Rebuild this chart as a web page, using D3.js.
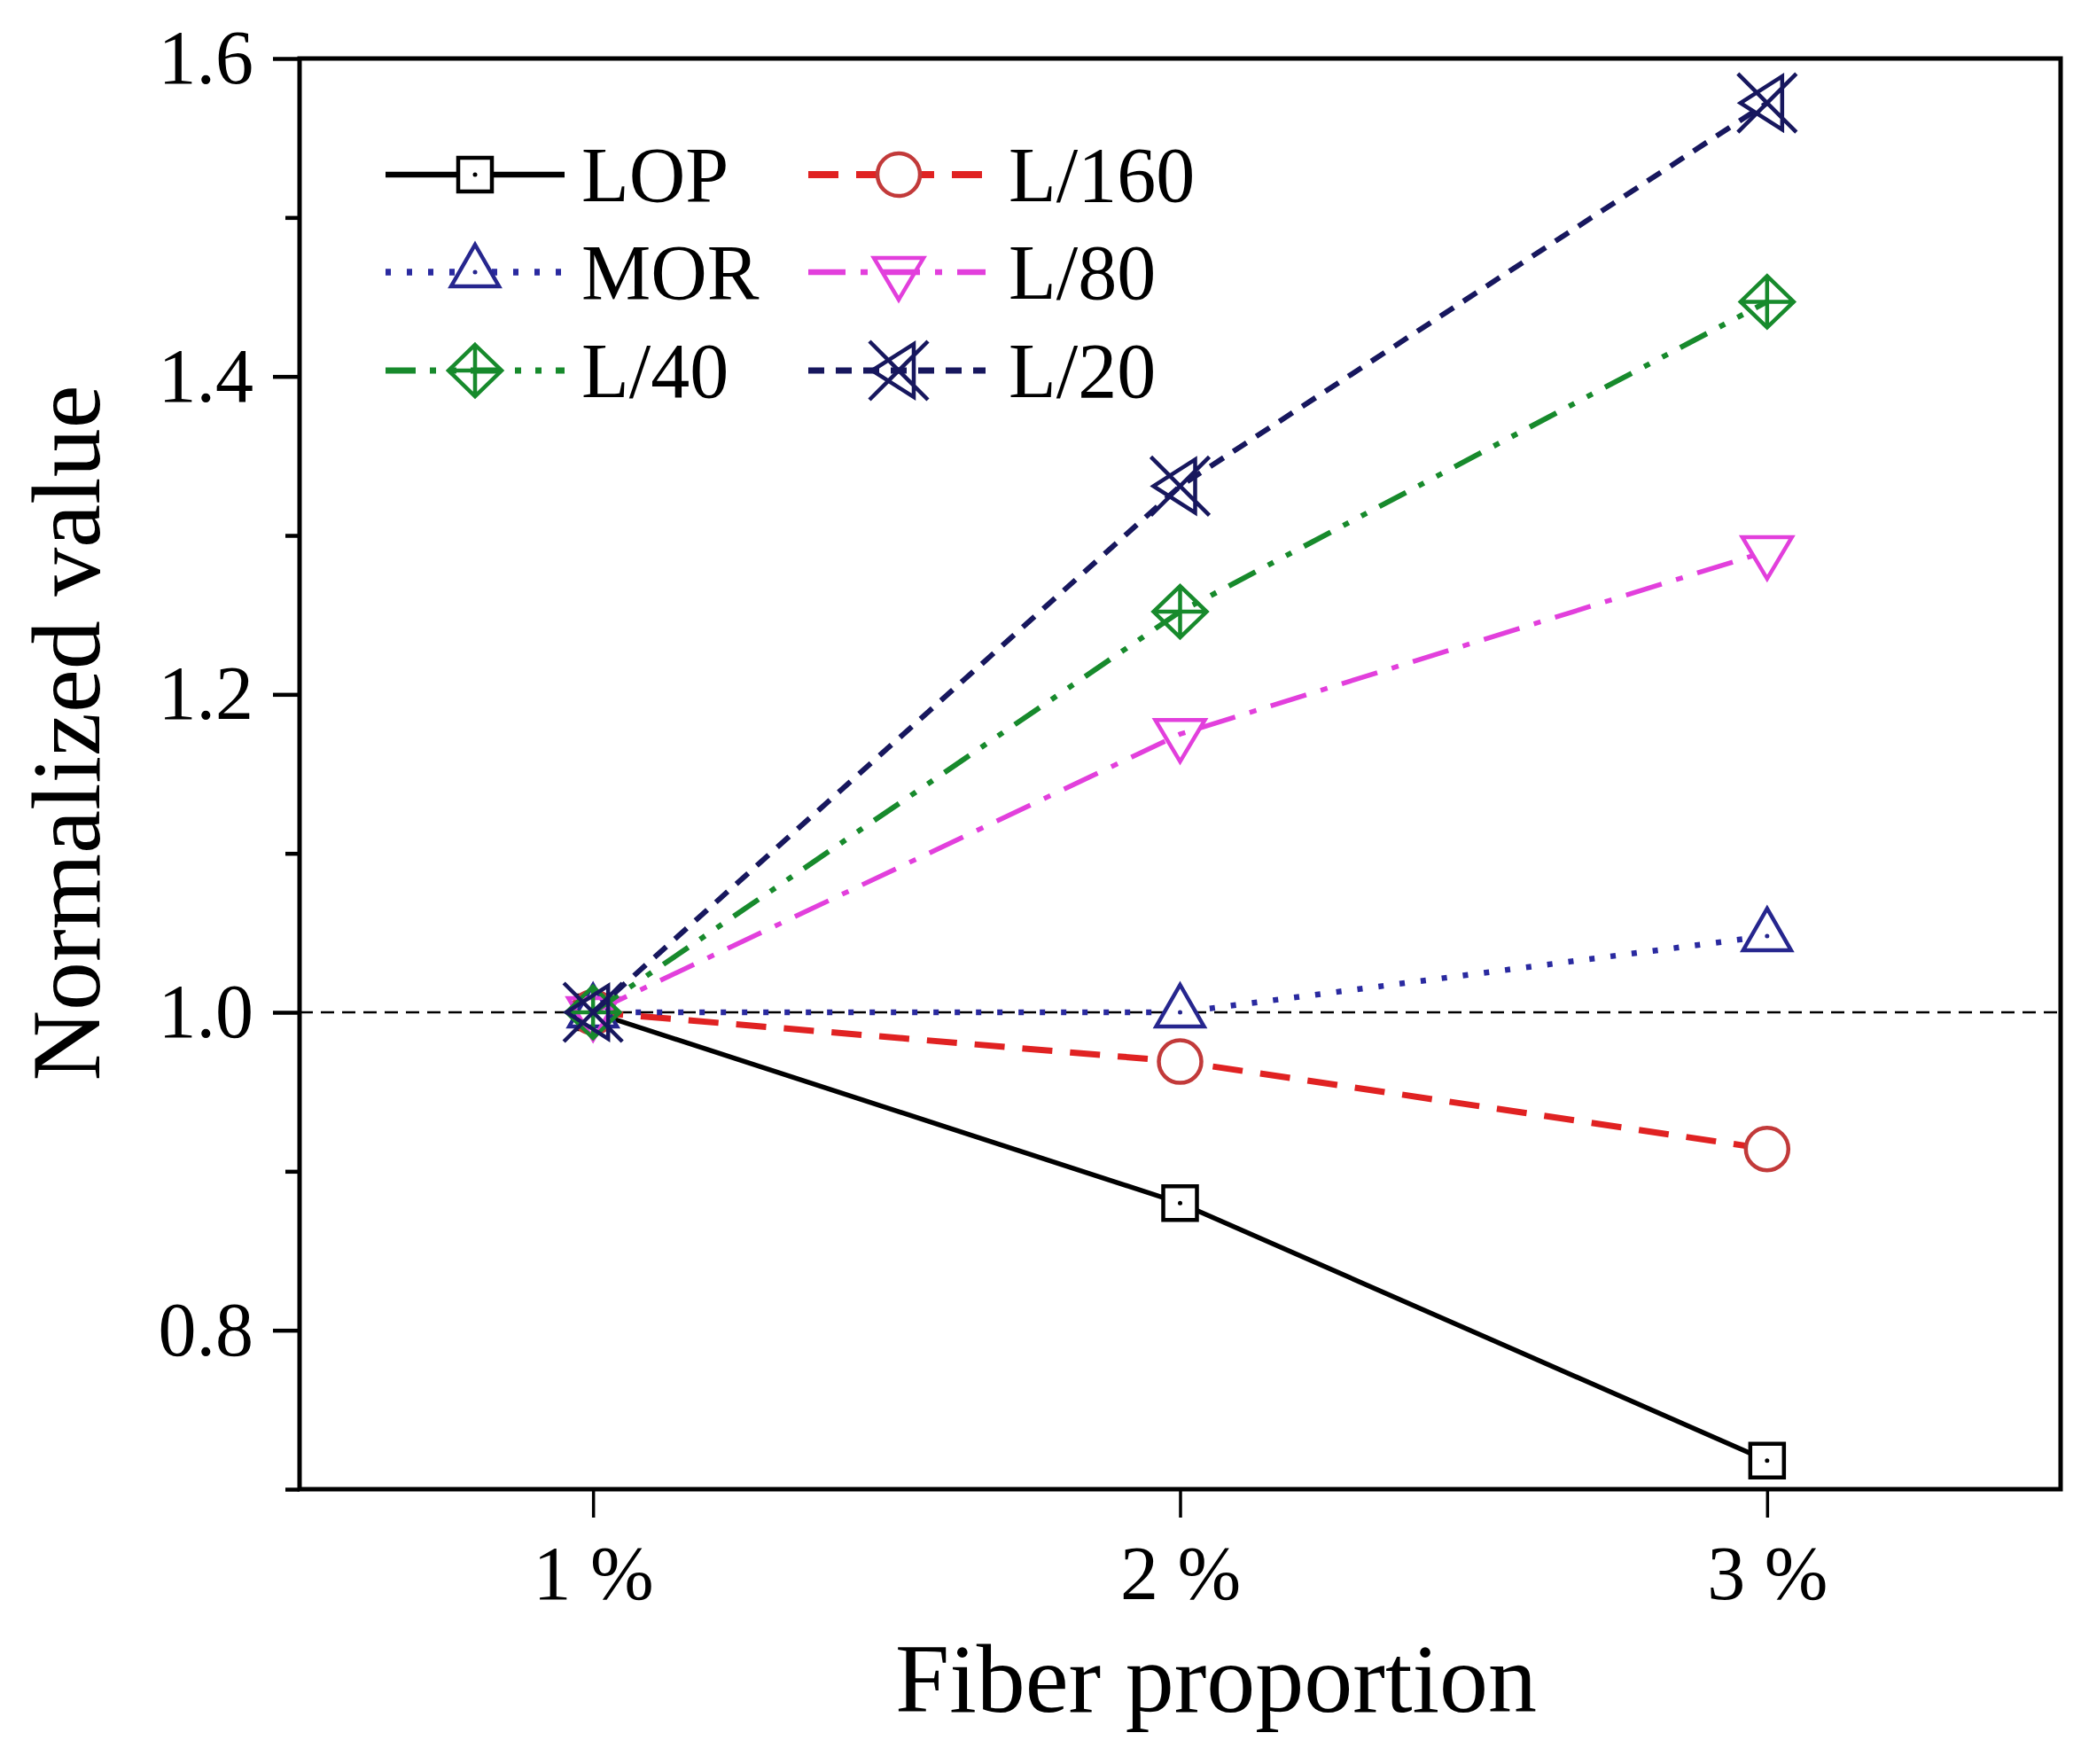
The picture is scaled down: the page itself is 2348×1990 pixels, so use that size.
<!DOCTYPE html>
<html>
<head>
<meta charset="utf-8">
<script src="https://cdn.jsdelivr.net/npm/d3@7"></script>
<style>
  body { margin: 0; background: #fff; }
  svg { display: block; }
  text { font-family: "Liberation Serif", "Times New Roman", serif; fill: #000; }
</style>
</head>
<body>
<svg></svg>
<script>
let width = 2348, height = 1990;

// Data
let categories = ["1 %", "2 %", "3 %"];
let xValues = [1, 2, 3];
let seriesNames = ["LOP", "L/160", "MOR", "L/80", "L/40", "L/20"];
let lopValues  = [1.000, 0.880, 0.718];
let l160Values = [1.000, 0.969, 0.914];
let morValues  = [1.000, 1.000, 1.048];
let l80Values  = [1.000, 1.175, 1.290];
let l40Values  = [1.000, 1.252, 1.447];
let l20Values  = [1.000, 1.331, 1.572];
let yTicks = [0.8, 1.0, 1.2, 1.4, 1.6];
let yMinorTicks = [0.7, 0.9, 1.1, 1.3, 1.5];

let svg = d3.select("svg")
    .attr("width", width)
    .attr("height", height)
    .attr("viewBox", "0 0 " + width + " " + height);

svg.append("rect").attr("width", width).attr("height", height).attr("fill", "#fff");

let plotLeft = 338, plotRight = 2325, plotTop = 66, plotBottom = 1680;

let x = d3.scaleLinear().domain([0.5, 3.5]).range([plotLeft, plotRight]);
let y = d3.scaleLinear().domain([0.7, 1.6]).range([plotBottom, plotTop]);

// marker shapes (path strings around 0,0)
let markers = {
    square: "M-19,-19h38v38h-38Z",
    circle: "M-24,0a24,24 0 1,0 48,0a24,24 0 1,0 -48,0Z",
    triUp: "M0,-31L27,16L-27,16Z",
    triDown: "M0,31L-28,-16L28,-16Z",
    diamond: "M0,-29L30,0L0,29L-30,0ZM0,-29V29M-30,0H30",
    cross: "M-33,-33L33,33M-33,33L33,-33M-30,0L17,-30L17,30Z"
};

let series = [
    {name: seriesNames[0], values: lopValues,  color: "#000000", mcolor: "#000000", width: 5.5, dash: null,               marker: "square",  fill: "#fff", dot: true},
    {name: seriesNames[1], values: l160Values, color: "#e02222", mcolor: "#c23a3a", width: 7,   dash: "34,20",            marker: "circle",  fill: "#fff", dot: false},
    {name: seriesNames[2], values: morValues,  color: "#2a2aa0", mcolor: "#26268e", width: 6.5, dash: "6,18",             marker: "triUp",   fill: "#fff", dot: true},
    {name: seriesNames[3], values: l80Values,  color: "#e23fdc", mcolor: "#e23fdc", width: 5.5, dash: "42,17,8,17",       marker: "triDown", fill: "none", dot: false},
    {name: seriesNames[4], values: l40Values,  color: "#178a2c", mcolor: "#178a2c", width: 6,   dash: "34,16,7,16,7,16",  marker: "diamond", fill: "none", dot: false},
    {name: seriesNames[5], values: l20Values,  color: "#17175e", mcolor: "#17175e", width: 6,   dash: "18,13",            marker: "cross",   fill: "none", dot: false}
];

// reference line at 1.0
svg.append("line")
    .attr("x1", plotLeft).attr("x2", plotRight)
    .attr("y1", y(1.0)).attr("y2", y(1.0))
    .attr("stroke", "#000")
    .attr("stroke-width", 2.5)
    .attr("stroke-dasharray", "15,9");

let line = d3.line()
    .x((d, i) => x(xValues[i]))
    .y(d => y(d));

function drawMarker(g, s, cx, cy) {
    g.append("path")
        .attr("transform", "translate(" + cx + "," + cy + ")")
        .attr("d", markers[s.marker])
        .attr("fill", s.fill)
        .attr("stroke", s.mcolor)
        .attr("stroke-width", 4.5)
        .attr("stroke-linejoin", "miter");
    if (s.dot) {
        g.append("circle")
            .attr("cx", cx).attr("cy", cy).attr("r", 2.5)
            .attr("fill", s.mcolor);
    }
}

// series
series.forEach(s => {
    let g = svg.append("g").attr("class", "series");
    g.append("path")
        .datum(s.values)
        .attr("d", line)
        .attr("fill", "none")
        .attr("stroke", s.color)
        .attr("stroke-width", s.width)
        .attr("stroke-dasharray", s.dash);
    s.values.forEach((v, i) => drawMarker(g, s, x(xValues[i]), y(v)));
});

// frame
svg.append("rect")
    .attr("x", plotLeft).attr("y", plotTop)
    .attr("width", plotRight - plotLeft).attr("height", plotBottom - plotTop)
    .attr("fill", "none")
    .attr("stroke", "#000")
    .attr("stroke-width", 5);

// y axis
let yAxis = svg.append("g")
    .attr("transform", "translate(" + plotLeft + ",0)")
    .call(d3.axisLeft(y).tickValues(yTicks).tickFormat(d3.format(".1f")).tickSize(30).tickPadding(22));
yAxis.select(".domain").remove();
yAxis.selectAll("line").attr("stroke-width", 4.5);
yAxis.selectAll("text").attr("font-size", 86).style("font-family", "Liberation Serif, serif");

let yMinor = svg.append("g")
    .attr("transform", "translate(" + plotLeft + ",0)")
    .call(d3.axisLeft(y).tickValues(yMinorTicks).tickFormat("").tickSize(16));
yMinor.select(".domain").remove();
yMinor.selectAll("line").attr("stroke-width", 4.5);

// x axis
let xAxis = svg.append("g")
    .attr("transform", "translate(0," + plotBottom + ")")
    .call(d3.axisBottom(x).tickValues(xValues).tickFormat((d, i) => categories[i]).tickSize(32).tickPadding(31));
xAxis.select(".domain").remove();
xAxis.selectAll("line").attr("stroke-width", 3.5);
xAxis.selectAll("text").attr("font-size", 86).style("font-family", "Liberation Serif, serif");

// axis titles
svg.append("text")
    .attr("x", 1372).attr("y", 1931)
    .attr("text-anchor", "middle")
    .attr("font-size", 110)
    .text("Fiber proportion");

svg.append("text")
    .attr("transform", "translate(112,827) rotate(-90)")
    .attr("text-anchor", "middle")
    .attr("font-size", 110)
    .text("Normalized value");

// legend
let legendRows = [197, 307, 418];
let legendCols = [
    {x1: 435, x2: 637, mx: 536, tx: 656},
    {x1: 912, x2: 1112, mx: 1014, tx: 1138}
];
let legend = svg.append("g").attr("class", "legend");
series.forEach((s, i) => {
    let row = legendRows[Math.floor(i / 2)];
    let col = legendCols[i % 2];
    legend.append("line")
        .attr("x1", col.x1).attr("x2", col.x2)
        .attr("y1", row).attr("y2", row)
        .attr("stroke", s.color)
        .attr("stroke-width", s.width + 1)
        .attr("stroke-dasharray", s.dash);
    drawMarker(legend, s, col.mx, row);
    legend.append("text")
        .attr("x", col.tx).attr("y", row)
        .attr("dy", "0.34em")
        .attr("font-size", 88)
        .text(s.name);
});
</script>
</body>
</html>
